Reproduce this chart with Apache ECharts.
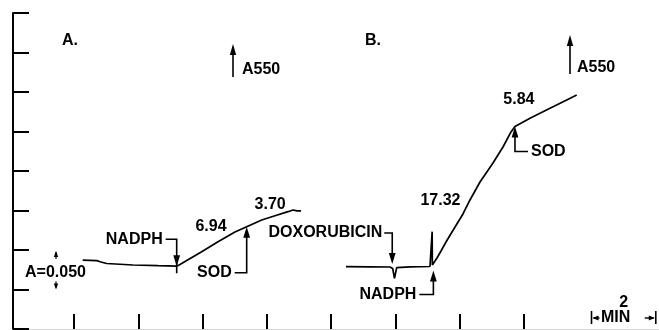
<!DOCTYPE html>
<html>
<head>
<meta charset="utf-8">
<script src="https://cdn.jsdelivr.net/npm/echarts@6/dist/echarts.min.js"></script>
<style>
  html, body { margin: 0; padding: 0; background: #fff; }
  #chart { width: 659px; height: 330px; }
</style>
</head>
<body>
<div id="chart"></div>
<script>
// Cytochrome c reduction traces (absorbance at 550 nm vs time in minutes)

// Trace A: NADPH alone, then SOD
const traceATime = [2.169, 2.604, 2.738, 2.915, 3.734, 4.512, 5.093, 5.196, 5.352, 5.871, 6.378, 6.907, 7.271, 7.738, 8.152, 8.556, 8.712, 8.837, 8.961];
const traceAAbs  = [0.0873, 0.0865, 0.0848, 0.0829, 0.0810, 0.0801, 0.0795, 0.0816, 0.0854, 0.0978, 0.1105, 0.1228, 0.1295, 0.1380, 0.1434, 0.1485, 0.1506, 0.1496, 0.1496];

// Trace B: doxorubicin, then NADPH, then SOD
const traceBTime = [10.361, 11.108, 11.730, 11.814, 11.870, 11.938, 12.352, 12.974, 13.036, 13.042, 13.048, 13.099, 13.192, 13.317, 13.472, 13.659, 14.001, 14.219, 14.530, 14.935, 15.246, 15.495, 15.619, 16.086, 16.708, 17.228, 17.539];
const traceBAbs  = [0.0789, 0.0787, 0.0785, 0.0766, 0.0642, 0.0776, 0.0787, 0.0791, 0.0791, 0.1232, 0.0810, 0.0829, 0.0899, 0.0987, 0.1101, 0.1228, 0.1456, 0.1633, 0.1861, 0.2101, 0.2304, 0.2494, 0.2563, 0.2667, 0.2794, 0.2899, 0.2962];

// Additions (time, absorbance at the moment of addition)
const additionNames = ['NADPH', 'SOD', 'DOXORUBICIN', 'NADPH', 'SOD'];
const additionTime  = [5.093, 7.271, 11.80, 13.08, 15.619];
const additionAbs   = [0.0795, 0.1295, 0.0785, 0.0791, 0.2563];

// Rates of reduction written beside each segment
const rateTexts = ['6.94', '3.70', '17.32', '5.84'];
const rateTime  = [6.16, 8.0, 13.30, 15.74];
const rateAbs   = [0.129, 0.158, 0.163, 0.291];

// Time ticks (2 min apart) and absorbance ticks (0.050 apart)
const timeTicks = [1.9, 3.9, 5.9, 7.9, 9.9, 11.9, 13.9, 15.9];
const absStep = 0.05;
const scaleBarTime = [18, 20];

const FONT = 'bold 16px "Liberation Sans", Arial, Helvetica, sans-serif';
const INK = '#000';

const chart = echarts.init(document.getElementById('chart'), null, { renderer: 'canvas' });

const zip = (xs, ys) => xs.map((x, i) => [x, ys[i]]);

chart.setOption({
  animation: false,
  backgroundColor: '#fff',
  grid: { left: 13, right: 0, top: 13, bottom: 1, containLabel: false },
  xAxis: {
    type: 'value', min: 0, max: 20.1,
    axisLine: { show: true, lineStyle: { color: '#d4d4d4', width: 1 } },
    axisTick: { show: true, inside: true, length: 15, customValues: timeTicks, lineStyle: { color: INK, width: 2 } },
    axisLabel: { show: false },
    splitLine: { show: false }
  },
  yAxis: {
    type: 'value', min: 0, max: 0.4, interval: absStep,
    axisLine: { show: true, onZero: false, lineStyle: { color: INK, width: 2 } },
    axisTick: { show: true, inside: true, length: 16, lineStyle: { color: INK, width: 2 } },
    axisLabel: { show: false },
    splitLine: { show: false }
  },
  series: [
    { name: 'A', type: 'line', data: zip(traceATime, traceAAbs), showSymbol: false, smooth: false,
      lineStyle: { color: INK, width: 1.7 } },
    { name: 'B', type: 'line', data: zip(traceBTime, traceBAbs), showSymbol: false, smooth: false,
      lineStyle: { color: INK, width: 1.7 } }
  ]
});

// ---- annotation layer ----
const px = (t, a) => chart.convertToPixel({ gridIndex: 0 }, [t, a]);
const G = [];
function text(x, y, s, align) {
  G.push({ type: 'text', x: x, y: y, silent: true,
    style: { text: s, font: FONT, fill: INK, textAlign: align || 'left', textVerticalAlign: 'middle' } });
}
function line(points, w) {
  G.push({ type: 'polyline', silent: true, shape: { points: points },
    style: { stroke: INK, lineWidth: w || 1.6, fill: null } });
}
function head(x, y, dir, len, hw) {
  len = len || 11; hw = hw || 3.4;
  let pts;
  if (dir === 'down') pts = [[x, y], [x - hw, y - len], [x + hw, y - len]];
  else if (dir === 'up') pts = [[x, y], [x - hw, y + len], [x + hw, y + len]];
  else if (dir === 'left') pts = [[x, y], [x + len, y - hw], [x + len, y + hw]];
  else pts = [[x, y], [x - len, y - hw], [x - len, y + hw]];
  G.push({ type: 'polygon', silent: true, shape: { points: pts }, style: { fill: INK } });
}

// panel letters and A550 direction arrows
text(62, 41, 'A.');
text(365, 41, 'B.');
line([[233, 77], [233, 52]], 1.6); head(233, 44, 'up', 11, 3.2); text(242, 70, 'A550');
line([[570, 74], [570, 43]], 1.6); head(570, 35, 'up', 11, 3.2); text(577, 68, 'A550');

// absorbance scale: A=0.050 between two ticks
{
  const hi = px(0, 2 * absStep), lo = px(0, absStep);
  text(25, (hi[1] + lo[1]) / 2 + 3, 'A=0.050');
  line([[56, hi[1] + 2], [56, hi[1] + 9]], 1.2); head(56, hi[1] + 1, 'up', 6, 2.2);
  line([[56, lo[1] - 8], [56, lo[1] - 2]], 1.2); head(56, lo[1], 'down', 6, 2.2);
}

// additions
{
  // A: NADPH (down arrow from the left)
  let p = px(additionTime[0], additionAbs[0]);
  text(p[0] - 14, p[1] - 27, additionNames[0], 'right');
  line([[p[0] - 11, p[1] - 27], [p[0], p[1] - 27], [p[0], p[1] + 7]]);
  head(p[0], p[1], 'down');
  // A: SOD (up arrow from below-left)
  p = px(additionTime[1], additionAbs[1]);
  text(p[0] - 15, p[1] + 46, additionNames[1], 'right');
  line([[p[0] - 12, p[1] + 46], [p[0], p[1] + 46], [p[0], p[1] + 8]]);
  head(p[0], p[1], 'up');
  // B: doxorubicin (down arrow from the left)
  p = px(additionTime[2], additionAbs[2]);
  text(p[0] - 10, p[1] - 34, additionNames[2], 'right');
  line([[p[0] - 8, p[1] - 34], [p[0], p[1] - 34], [p[0], p[1] - 10]]);
  head(p[0], p[1] - 3, 'down');
  // B: NADPH (up arrow from below-left)
  p = px(additionTime[3], additionAbs[3]);
  text(p[0] - 17, p[1] + 28, additionNames[3], 'right');
  line([[p[0] - 14, p[1] + 28], [p[0], p[1] + 28], [p[0], p[1] + 10]]);
  head(p[0], p[1] + 4, 'up');
  // B: SOD (up arrow, label to the right)
  p = px(additionTime[4], additionAbs[4]);
  text(p[0] + 16, p[1] + 25, additionNames[4]);
  line([[p[0] + 13, p[1] + 25], [p[0], p[1] + 25], [p[0], p[1] + 8]]);
  head(p[0], p[1], 'up');
}

// rate labels
rateTexts.forEach((s, i) => {
  const p = px(rateTime[i], rateAbs[i]);
  text(p[0], p[1], s, 'center');
});

// 2-minute scale bar
{
  const l = px(scaleBarTime[0], 0), r = px(scaleBarTime[1], 0);
  const y = 318, mid = (l[0] + r[0]) / 2;
  line([[l[0], y - 7], [l[0], y + 6]], 1.6);
  line([[r[0], y - 7], [r[0], y + 6]], 1.6);
  line([[l[0] + 2, y], [l[0] + 8, y]], 1.4); head(l[0] + 1, y, 'left', 6, 2.6);
  line([[r[0] - 11, y], [r[0] - 2, y]], 1.4); head(r[0] - 1, y, 'right', 6, 2.6);
  text(mid - 8, y, 'MIN', 'center');
  text(mid, y - 15, '2', 'center');
}

chart.setOption({ graphic: { elements: G } });
</script>
</body>
</html>
